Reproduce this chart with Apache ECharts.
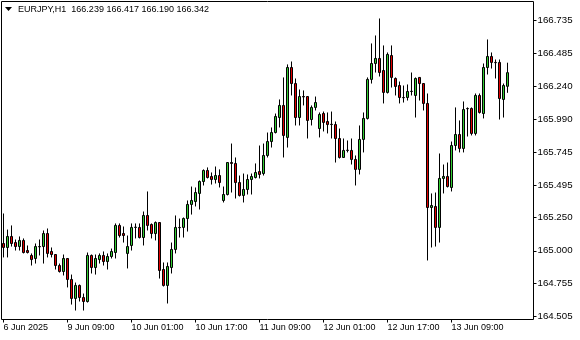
<!DOCTYPE html>
<html><head><meta charset="utf-8">
<script src="https://cdn.jsdelivr.net/npm/echarts@6/dist/echarts.min.js"></script>
<style>html,body{margin:0;padding:0;background:#fff}#c{width:580px;height:340px}</style>
</head><body><div id="c"></div>
<script>
const symbolName = 'EURJPY,H1';
const opens = [165.055,165.025,165.108,165.062,165.032,165.078,165.002,164.965,164.942,165.032,
165.032,165.130,164.995,164.972,164.889,164.844,164.942,164.784,164.641,164.739,
164.648,164.618,164.965,164.874,164.934,164.965,164.919,164.957,164.987,165.191,
165.130,164.980,165.040,165.176,165.176,165.100,165.266,165.198,165.130,165.213,
164.859,164.739,164.874,165.010,165.176,165.176,165.243,165.349,165.371,165.432,
165.522,165.605,165.560,165.537,165.567,165.379,165.424,165.665,165.658,165.514,
165.417,165.462,165.537,165.552,165.597,165.582,165.718,165.823,165.891,166.004,
166.095,165.854,166.381,166.260,166.004,166.162,166.162,165.989,166.080,165.921,
166.034,165.974,165.951,165.951,165.846,165.703,165.756,165.756,165.688,165.613,
165.839,165.997,166.291,166.411,166.449,166.358,166.193,166.471,166.298,166.245,
166.155,166.155,166.200,166.170,166.306,166.260,166.110,165.326,165.334,165.176,
165.545,165.560,165.477,165.793,165.876,165.771,166.072,166.072,165.884,166.170,
166.034,166.381,166.464,166.419,166.419,166.140,166.239];
const highs = [165.281,165.160,165.191,165.085,165.108,165.093,165.040,164.980,165.055,165.085,
165.153,165.168,165.025,164.975,164.904,164.972,164.945,164.821,164.761,164.746,
164.678,164.987,164.972,164.972,164.980,164.995,164.980,165.017,165.206,165.206,
165.183,165.115,165.206,165.206,165.206,165.296,165.447,165.206,165.221,165.216,
164.912,164.912,165.062,165.266,165.243,165.251,165.379,165.484,165.477,165.530,
165.613,165.628,165.590,165.635,165.613,165.484,165.668,165.808,165.703,165.567,
165.582,165.575,165.582,165.658,165.793,165.808,165.891,165.929,166.034,166.140,
166.306,166.404,166.426,166.298,166.215,166.208,166.165,166.095,166.162,166.042,
166.049,166.042,166.049,165.974,165.921,165.846,165.831,165.846,165.718,165.944,
166.042,166.306,166.562,166.622,166.750,166.547,166.494,166.547,166.306,166.275,
166.245,166.253,166.343,166.306,166.308,166.262,166.185,165.432,165.439,165.733,
165.650,165.665,165.823,166.080,165.982,166.125,166.080,166.080,166.185,166.185,
166.411,166.592,166.494,166.441,166.441,166.260,166.417];
const lows = [164.950,164.950,165.032,165.002,165.002,164.980,164.980,164.889,164.904,164.965,
164.904,164.950,164.950,164.859,164.836,164.814,164.724,164.595,164.550,164.618,
164.550,164.610,164.829,164.821,164.904,164.889,164.859,164.942,164.942,165.100,
165.062,164.867,165.002,165.093,165.093,165.040,165.153,165.093,165.078,164.791,
164.731,164.603,164.829,164.980,165.100,165.100,165.145,165.273,165.334,165.311,
165.492,165.545,165.499,165.507,165.477,165.364,165.417,165.439,165.394,165.409,
165.364,165.424,165.424,165.545,165.545,165.567,165.703,165.778,165.884,165.929,
165.703,165.778,166.170,165.944,165.944,166.095,165.846,165.944,166.057,165.854,
165.899,165.884,165.846,165.665,165.695,165.700,165.741,165.650,165.492,165.575,
165.741,165.989,166.260,166.343,166.313,166.110,166.185,166.230,166.170,166.110,
166.117,166.132,166.170,166.004,166.132,166.057,164.927,165.025,165.032,165.062,
165.432,165.477,165.447,165.756,165.741,165.741,165.861,165.869,165.869,166.034,
165.997,166.328,166.373,166.298,165.989,166.004,166.190];
const closes = [165.025,165.108,165.055,165.032,165.078,164.987,164.987,164.934,165.032,165.030,
165.130,164.980,164.972,164.889,164.844,164.942,164.784,164.641,164.739,164.648,
164.618,164.965,164.874,164.942,164.965,164.919,164.957,164.995,165.191,165.115,
165.115,165.032,165.176,165.178,165.100,165.266,165.191,165.130,165.213,164.852,
164.739,164.882,165.010,165.176,165.174,165.243,165.349,165.379,165.439,165.522,
165.605,165.552,165.537,165.567,165.514,165.424,165.665,165.658,165.514,165.417,
165.462,165.537,165.560,165.590,165.575,165.718,165.823,165.891,166.012,166.095,
165.869,166.381,166.260,166.004,166.162,166.159,165.982,166.080,166.117,166.027,
165.967,165.951,165.953,165.846,165.703,165.756,165.758,165.688,165.613,165.839,
165.997,166.291,166.411,166.449,166.343,166.193,166.479,166.306,166.238,166.155,
166.153,166.200,166.202,166.298,166.260,166.110,165.326,165.341,165.176,165.545,
165.560,165.484,165.793,165.876,165.771,166.064,166.070,165.884,166.170,166.042,
166.381,166.464,166.419,166.417,166.147,166.245,166.342];
const xTickLabels = ['6 Jun 2025','9 Jun 09:00','10 Jun 01:00','10 Jun 17:00','11 Jun 09:00','12 Jun 01:00','12 Jun 17:00','13 Jun 09:00'];
const xTickEvery = 16;
const yTickLabels = ['164.505','164.755','165.000','165.250','165.495','165.745','165.990','166.240','166.485','166.735'];
const priceMin = 164.4824, priceMax = 166.878;

// hourly bar categories (Friday evening, then Mon-Fri)
const sessions = [[6,17],[9,0],[10,0],[11,0],[12,0],[13,0]];
const categories = [];
sessions.forEach(([d,h0]) => { for (let h = h0; h < 24; h++) categories.push(d + ' Jun ' + String(h).padStart(2,'0') + ':00'); });

const ohlc = opens.map((o,i) => [o, closes[i], lows[i], highs[i]]);
const last = opens.length - 1;
const FONT = 'Liberation Sans';
const showX = (i) => i % xTickEvery === 0 && i < categories.length;
const yTickValues = yTickLabels.map(Number);

const chart = echarts.init(document.getElementById('c'), null, {renderer:'canvas'});
chart.setOption({
  animation:false,
  backgroundColor:'#fff',
  grid:{left:1.5, top:1.5, right:46.5, bottom:20.5, show:true, borderColor:'#000', borderWidth:1, backgroundColor:'transparent'},
  xAxis:{type:'category', data:categories, max:132, boundaryGap:true,
     axisLine:{show:false},
     axisTick:{show:true, alignWithLabel:true, length:3, interval:(i)=>showX(i), lineStyle:{color:'#000'}},
     axisLabel:{show:true, interval:(i)=>showX(i), formatter:(v,i)=>xTickLabels[i/xTickEvery]||'', align:'left', margin:4,
       color:'#000', fontFamily:FONT, fontSize:9},
     splitLine:{show:false}},
  yAxis:{type:'value', position:'right', min:priceMin, max:priceMax,
     axisLine:{show:false},
     axisTick:{show:true, length:3, customValues:yTickValues, lineStyle:{color:'#000'}},
     axisLabel:{customValues:yTickValues, formatter:(v)=>v.toFixed(3), color:'#000', fontFamily:FONT, fontSize:9.7, margin:4,
       showMinLabel:true, showMaxLabel:true},
     splitLine:{show:false}},
  graphic:[
    {type:'polygon', shape:{points:[[5,7],[12,7],[8.5,11]]}, style:{fill:'#000'}},
    {type:'text', left:18, top:5, style:{text: symbolName + '  ' + [opens[last],highs[last],lows[last],closes[last]].map(v=>v.toFixed(3)).join(' '),
      fill:'#000', font:'9px "Liberation Sans"'}}
  ],
  series:[{
    type:'candlestick', data:ohlc, barWidth:2,
    itemStyle:{color:'#32cd32', color0:'#e00000', borderColor:'#000', borderColor0:'#000', borderColorDoji:'#000', borderWidth:1},
    markLine:{silent:true, symbol:'none', animation:false,
      data:[{yAxis:closes[last]}],
      lineStyle:{opacity:0},
      label:{show:true, position:'end', formatter:()=>closes[last].toFixed(3), backgroundColor:'#000', color:'#fff',
        fontFamily:FONT, fontSize:9.7, lineHeight:11, padding:[0,3,0,3], distance:2}}
  }]
});
</script></body></html>
